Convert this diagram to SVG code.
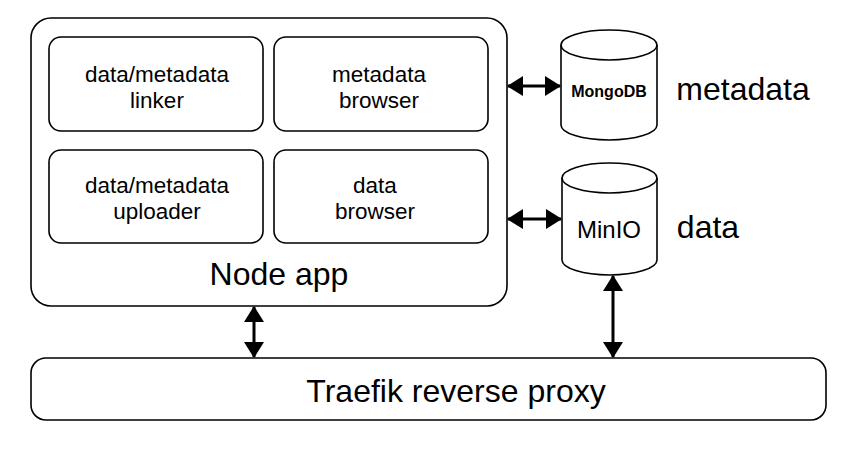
<svg xmlns="http://www.w3.org/2000/svg" width="863" height="450" viewBox="0 0 863 450">
<style>
.box{fill:#fff;stroke:#000;stroke-width:1.6}
.t{font-family:"Liberation Sans",Arial,sans-serif;fill:#000;text-anchor:middle}
.s{font-size:22.5px}
.m{font-size:24px}
.l{font-size:32px}
.b{font-size:16px;font-weight:bold}
.c{stroke:#000;stroke-width:3;fill:none;marker-start:url(#ah);marker-end:url(#ah)}
</style>
<defs>
<marker id="ah" viewBox="0 0 16 20" markerWidth="16" markerHeight="20" refX="15" refY="10" orient="auto-start-reverse" markerUnits="userSpaceOnUse">
<path d="M0,0 L16,10 L0,20 z" fill="#000"/>
</marker>
</defs>
<rect width="863" height="450" fill="#fff"/>
<g id="node-app">
<rect class="box" x="31" y="18" width="476" height="288" rx="20"/>
<text class="t l" x="279" y="285">Node app</text>
</g>
<g id="linker">
<rect class="box" x="49" y="37" width="214" height="94" rx="12"/>
<text class="t s" x="157" y="82">data/metadata</text>
<text class="t s" x="157" y="107.5">linker</text>
</g>
<g id="metadata-browser">
<rect class="box" x="274" y="37" width="214" height="94" rx="12"/>
<text class="t s" x="379" y="82">metadata</text>
<text class="t s" x="379" y="107.5">browser</text>
</g>
<g id="uploader">
<rect class="box" x="49" y="150" width="214" height="93" rx="12"/>
<text class="t s" x="157" y="193">data/metadata</text>
<text class="t s" x="157" y="218.5">uploader</text>
</g>
<g id="data-browser">
<rect class="box" x="274" y="150" width="214" height="93" rx="12"/>
<text class="t s" x="375" y="193">data</text>
<text class="t s" x="375" y="218.5">browser</text>
</g>
<g id="mongodb">
<path class="box" d="M561,45 A48,15 0 0 1 657,45 L657,125 A48,15 0 0 1 561,125 Z"/>
<path class="box" style="fill:none" d="M561,45 A48,15 0 0 0 657,45"/>
<text class="t b" x="609" y="97">MongoDB</text>
</g>
<g id="minio">
<path class="box" d="M562,178 A47.5,15 0 0 1 657,178 L657,260 A47.5,15 0 0 1 562,260 Z"/>
<path class="box" style="fill:none" d="M562,178 A47.5,15 0 0 0 657,178"/>
<text class="t m" x="609" y="238">MinIO</text>
</g>
<g id="traefik">
<rect class="box" x="31" y="358" width="795" height="62" rx="15"/>
<text class="t l" x="456" y="402">Traefik reverse proxy</text>
</g>
<g id="labels">
<text class="t l" x="743" y="100">metadata</text>
<text class="t l" x="708" y="238">data</text>
</g>
<g id="connectors">
<line class="c" x1="508" y1="86" x2="560" y2="86"/>
<line class="c" x1="508" y1="219" x2="561" y2="219"/>
<line class="c" x1="254" y1="307" x2="254" y2="357"/>
<line class="c" x1="613" y1="276" x2="613" y2="357"/>
</g>
</svg>
